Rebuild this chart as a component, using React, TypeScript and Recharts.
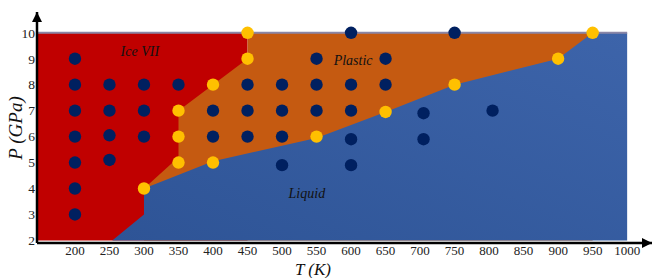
import React from 'react'
import {
  ComposedChart,
  XAxis,
  YAxis,
  Area,
  Scatter,
  ReferenceLine,
  Label
} from 'recharts'

const tTicks = [200, 250, 300, 350, 400, 450, 500, 550, 600, 650, 700, 750, 800, 850, 900, 950, 1000]
const pTicks = [2, 3, 4, 5, 6, 7, 8, 9, 10]

// phase regions, each filled down to P = 2
const iceVII = [
  { t: 145, p: 10 },
  { t: 450, p: 10 }
]
const plasticEdge = [
  { t: 300, p: 4 },
  { t: 350, p: 5.2 },
  { t: 350, p: 7 },
  { t: 450, p: 9 },
  { t: 450, p: 10 },
  { t: 950, p: 10 }
]
const liquidEdge = [
  { t: 254, p: 2 },
  { t: 300, p: 3 },
  { t: 300, p: 4 },
  { t: 400, p: 5.05 },
  { t: 550, p: 5.95 },
  { t: 650, p: 6.95 },
  { t: 750, p: 8 },
  { t: 900, p: 9 },
  { t: 950, p: 10 },
  { t: 1000, p: 10 }
]

const navyPoints = [
  { t: 200, p: 9 }, { t: 200, p: 8 }, { t: 200, p: 7 }, { t: 200, p: 6 },
  { t: 200, p: 5 }, { t: 200, p: 4 }, { t: 200, p: 3 },
  { t: 250, p: 8 }, { t: 250, p: 7 }, { t: 250, p: 6.05 }, { t: 250, p: 5.1 },
  { t: 300, p: 8 }, { t: 300, p: 7 }, { t: 300, p: 6 },
  { t: 350, p: 8 },
  { t: 400, p: 7 }, { t: 400, p: 6 },
  { t: 450, p: 8 }, { t: 450, p: 7 }, { t: 450, p: 6 },
  { t: 500, p: 8 }, { t: 500, p: 7 }, { t: 500, p: 6 }, { t: 500, p: 4.9 },
  { t: 550, p: 9 }, { t: 550, p: 8 }, { t: 550, p: 7 },
  { t: 600, p: 10 }, { t: 600, p: 8 }, { t: 600, p: 7 }, { t: 600, p: 5.9 }, { t: 600, p: 4.9 },
  { t: 650, p: 9 }, { t: 650, p: 8 },
  { t: 705, p: 6.9 }, { t: 705, p: 5.9 },
  { t: 750, p: 10 },
  { t: 805, p: 7 }
]
const yellowPoints = [
  { t: 300, p: 4 },
  { t: 350, p: 5 }, { t: 350, p: 6 }, { t: 350, p: 7 },
  { t: 400, p: 5 }, { t: 400, p: 8 },
  { t: 450, p: 9 }, { t: 450, p: 10 },
  { t: 550, p: 6 },
  { t: 650, p: 6.95 },
  { t: 750, p: 8 },
  { t: 900, p: 9 },
  { t: 950, p: 10 }
]

const phaseNames = [
  { t: 294, p: 9.28, name: 'Ice VII' },
  { t: 603, p: 8.92, name: 'Plastic' },
  { t: 536, p: 3.8, name: 'Liquid' }
]

const serif = '"Liberation Serif", "DejaVu Serif", serif'

const dot = (color: string) => (props: any) => (
  <circle cx={props.cx} cy={props.cy} r={6.2} fill={color} />
)

const phaseText = (props: any) => (
  <text
    x={props.cx}
    y={props.cy}
    textAnchor="middle"
    dominantBaseline="central"
    fontFamily={serif}
    fontStyle="italic"
    fontSize={14}
    fill="#111"
  >
    {props.payload.name}
  </text>
)

const App: React.FC = () => {
  const tick = { fontFamily: serif, fontSize: 13.5, fill: '#222' }

  return (
    <div style={{ position: 'absolute', left: 0, top: 0 }}>
      <ComposedChart
        width={653}
        height={278}
        margin={{ top: 12, right: 1, bottom: 0, left: 0 }}
      >
        <defs>
          <linearGradient id="liquidFill" x1="1" y1="0" x2="0" y2="1">
            <stop offset="0%" stopColor="#3d64aa" />
            <stop offset="100%" stopColor="#2e5496" />
          </linearGradient>
          <marker id="arrowHead" viewBox="0 0 10 10" refX="10" refY="5" markerWidth="4" markerHeight="4" orient="auto-start-reverse">
            <path d="M0,0 L10,5 L0,10 z" fill="#000" />
          </marker>
        </defs>
        <XAxis
          type="number"
          dataKey="t"
          domain={[145, 1036]}
          ticks={tTicks}
          interval={0}
          tickLine={false}
          tickSize={1}
          tickMargin={2}
          tick={{ ...tick, fontSize: 13 }}
          height={35}
          axisLine={{ stroke: '#000', strokeWidth: 2.5, markerEnd: 'url(#arrowHead)' }}
        >
          <Label
            content={(props: any) => {
              const vb = props.viewBox
              return (
                <text x={vb.x + 276} y={vb.y + 31.5} textAnchor="middle" fontFamily={serif} fontStyle="italic" fontSize={17} fill="#111">
                  T (K)
                </text>
              )
            }}
          />
        </XAxis>
        <YAxis
          type="number"
          dataKey="p"
          domain={[1.9, 10.8]}
          ticks={pTicks}
          interval={0}
          tickLine={false}
          tickSize={0}
          tickMargin={2}
          tick={tick}
          width={37}
          axisLine={{ stroke: '#000', strokeWidth: 2.5, markerStart: 'url(#arrowHead)' }}
        >
          <Label
            content={(props: any) => {
              const vb = props.viewBox
              const cx = vb.x + 15
              const cy = vb.y + 116
              return (
                <text x={cx} y={cy} transform={`rotate(-90, ${cx}, ${cy})`} textAnchor="middle" dominantBaseline="central" fontFamily={serif} fontStyle="italic" fontSize={19} fill="#111">
                  P (GPa)
                </text>
              )
            }}
          />
        </YAxis>
        <Area
          data={iceVII}
          dataKey="p"
          type="linear"
          baseValue={2}
          fill="#c00000"
          fillOpacity={1}
          stroke="none"
          isAnimationActive={false}
        />
        <Area
          data={plasticEdge}
          dataKey="p"
          type="linear"
          baseValue={2}
          fill="#c55a11"
          fillOpacity={1}
          stroke="none"
          isAnimationActive={false}
        />
        <Area
          data={liquidEdge}
          dataKey="p"
          type="linear"
          baseValue={2}
          fill="url(#liquidFill)"
          fillOpacity={1}
          stroke="none"
          isAnimationActive={false}
        />
        <ReferenceLine
          segment={[{ x: 145, y: 10 }, { x: 1000, y: 10 }]}
          stroke="#8a86a6"
          strokeWidth={2}
        />
        <Scatter data={navyPoints} fill="#002060" shape={dot('#002060')} isAnimationActive={false} />
        <Scatter data={yellowPoints} fill="#ffc000" shape={dot('#ffc000')} isAnimationActive={false} />
        <Scatter data={phaseNames} shape={phaseText} isAnimationActive={false} />
      </ComposedChart>
    </div>
  )
}

export default App
